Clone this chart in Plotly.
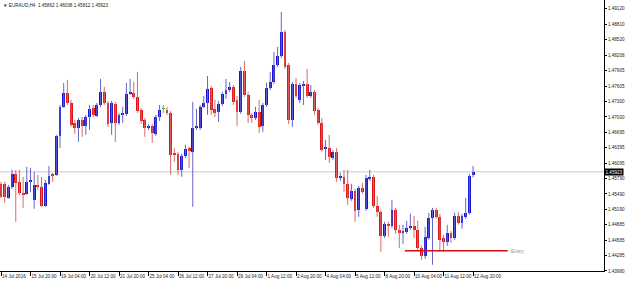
import plotly.graph_objects as go

symbol = "EURAUD,H4"

tick_bars = [0, 8, 16, 24, 32, 40, 48, 56, 64, 72, 80, 88, 96, 104, 112, 120, 128]
tick_labels = ["14 Jul 2016", "15 Jul 20:00", "19 Jul 04:00", "20 Jul 12:00", "21 Jul 20:00",
               "25 Jul 04:00", "26 Jul 12:00", "27 Jul 20:00", "29 Jul 04:00", "1 Aug 12:00",
               "2 Aug 20:00", "4 Aug 04:00", "5 Aug 12:00", "8 Aug 20:00", "10 Aug 04:00",
               "11 Aug 12:00", "12 Aug 20:00"]

price_ticks = [1.49120, 1.48810, 1.48520, 1.48208, 1.47905, 1.47605, 1.47300, 1.47000, 1.46695,
               1.46395, 1.46095, 1.45790, 1.45490, 1.45190, 1.44885, 1.44585, 1.44285, 1.43980]

opens = [1.45688, 1.45688, 1.45413, 1.45629, 1.45884, 1.45727, 1.45511, 1.45492, 1.45727, 1.45374,
         1.45668, 1.45629, 1.45256, 1.45688, 1.45864, 1.45864, 1.46628, 1.47197, 1.47471, 1.47275,
         1.46883, 1.46785, 1.46942, 1.46824, 1.47001, 1.47177, 1.47020, 1.47236, 1.47491, 1.47275,
         1.46883, 1.47256, 1.46883, 1.47040, 1.47060, 1.47452, 1.47471, 1.47393, 1.47138, 1.46942,
         1.46785, 1.46824, 1.46668, 1.47001, 1.47158, 1.47138, 1.47079, 1.46276, 1.46276, 1.45962,
         1.46236, 1.46393, 1.46315, 1.46785, 1.46785, 1.47197, 1.47275, 1.47569, 1.47158, 1.47099,
         1.47256, 1.47452, 1.47530, 1.47589, 1.47334, 1.47099, 1.47902, 1.47432, 1.47040, 1.46981,
         1.47099, 1.46824, 1.47236, 1.47569, 1.47687, 1.48020, 1.48196, 1.48667, 1.48020, 1.46942,
         1.47648, 1.47334, 1.47608, 1.47648, 1.47412, 1.47491, 1.47138, 1.46883, 1.46374, 1.46393,
         1.46197, 1.46315, 1.45805, 1.45825, 1.45688, 1.45394, 1.45550, 1.45178, 1.45609, 1.45198,
         1.45786, 1.45825, 1.45256, 1.45139, 1.44668, 1.44904, 1.44864, 1.45178, 1.44786, 1.44727,
         1.44747, 1.44825, 1.44864, 1.44786, 1.44433, 1.44276, 1.44629, 1.45021, 1.45178, 1.45041,
         1.44629, 1.44551, 1.44727, 1.44629, 1.45060, 1.44923, 1.45041, 1.45119, 1.45862]

highs = [1.45727, 1.45727, 1.45668, 1.45962, 1.45962, 1.45962, 1.45825, 1.46021, 1.46001, 1.45923,
         1.45864, 1.45825, 1.45766, 1.46040, 1.45903, 1.46648, 1.47236, 1.47667, 1.47726, 1.47334,
         1.46942, 1.46981, 1.47001, 1.47040, 1.47236, 1.47236, 1.47275, 1.47746, 1.47589, 1.47314,
         1.47314, 1.47295, 1.47079, 1.47197, 1.47667, 1.47746, 1.47687, 1.47883, 1.47177, 1.46981,
         1.46864, 1.46864, 1.47040, 1.47236, 1.47236, 1.47197, 1.47118, 1.46393, 1.46315, 1.46276,
         1.46452, 1.46413, 1.47295, 1.47158, 1.47236, 1.47412, 1.47804, 1.47608, 1.47334, 1.47314,
         1.47491, 1.47746, 1.47687, 1.47628, 1.47412, 1.47981, 1.48098, 1.47491, 1.47079, 1.47197,
         1.47334, 1.47275, 1.47667, 1.47883, 1.48275, 1.48373, 1.49059, 1.48706, 1.48059, 1.47687,
         1.47765, 1.47667, 1.47707, 1.47942, 1.47628, 1.47530, 1.47177, 1.46981, 1.46550, 1.46648,
         1.46354, 1.46393, 1.45903, 1.45962, 1.45962, 1.45688, 1.45590, 1.45648, 1.45707, 1.45864,
         1.45962, 1.45864, 1.45452, 1.45178, 1.44943, 1.44943, 1.45374, 1.45217, 1.44884, 1.44884,
         1.44962, 1.45100, 1.45060, 1.44962, 1.44472, 1.44845, 1.45119, 1.45217, 1.45217, 1.45100,
         1.44688, 1.44884, 1.44766, 1.45119, 1.45139, 1.45100, 1.45413, 1.45884, 1.46038]

lows = [1.45413, 1.45315, 1.45394, 1.45590, 1.44943, 1.45472, 1.45217, 1.45472, 1.45531, 1.45198,
        1.45570, 1.45237, 1.45237, 1.45668, 1.45727, 1.45844, 1.46393, 1.47177, 1.47236, 1.46805,
        1.46668, 1.46511, 1.46609, 1.46648, 1.46746, 1.47001, 1.47001, 1.47197, 1.47236, 1.46805,
        1.46648, 1.46511, 1.46844, 1.46883, 1.47020, 1.47432, 1.47354, 1.47079, 1.46864, 1.46609,
        1.46746, 1.46491, 1.46628, 1.46922, 1.47079, 1.47040, 1.45864, 1.46119, 1.45864, 1.45825,
        1.46197, 1.46001, 1.45237, 1.46746, 1.46746, 1.47177, 1.47040, 1.47040, 1.47001, 1.46903,
        1.47216, 1.47354, 1.47491, 1.47236, 1.46824, 1.47060, 1.47393, 1.46883, 1.46883, 1.46942,
        1.46687, 1.46707, 1.47197, 1.47530, 1.47648, 1.47981, 1.48157, 1.47942, 1.46864, 1.46805,
        1.47373, 1.47275, 1.47236, 1.47373, 1.47373, 1.47040, 1.46844, 1.46315, 1.46158, 1.46099,
        1.46158, 1.45727, 1.45746, 1.45531, 1.45276, 1.45355, 1.44943, 1.45041, 1.45492, 1.45158,
        1.45746, 1.45217, 1.45041, 1.44355, 1.44629, 1.44649, 1.44825, 1.44708, 1.44433, 1.44512,
        1.44708, 1.44786, 1.44629, 1.44374, 1.44198, 1.44218, 1.44590, 1.44100, 1.45001, 1.44355,
        1.44355, 1.44472, 1.44531, 1.44590, 1.44884, 1.44806, 1.45001, 1.45080, 1.45812]

closes = [1.45433, 1.45433, 1.45629, 1.45884, 1.45707, 1.45511, 1.45472, 1.45727, 1.45746, 1.45668,
          1.45629, 1.45256, 1.45707, 1.45844, 1.45844, 1.46628, 1.47197, 1.47471, 1.47275, 1.46844,
          1.46785, 1.46942, 1.46824, 1.47001, 1.47158, 1.47040, 1.47236, 1.47491, 1.47275, 1.46864,
          1.47275, 1.46883, 1.47040, 1.47079, 1.47452, 1.47471, 1.47393, 1.47118, 1.46922, 1.46785,
          1.46824, 1.46687, 1.47001, 1.47138, 1.47158, 1.47079, 1.46256, 1.46256, 1.45962, 1.46236,
          1.46374, 1.46334, 1.46785, 1.46805, 1.47197, 1.47275, 1.47550, 1.47138, 1.47079, 1.47256,
          1.47452, 1.47530, 1.47589, 1.47295, 1.47099, 1.47902, 1.47432, 1.47040, 1.46981, 1.47099,
          1.46805, 1.47236, 1.47569, 1.47687, 1.48020, 1.48196, 1.48667, 1.47981, 1.46942, 1.47648,
          1.47412, 1.47628, 1.47648, 1.47412, 1.47491, 1.47118, 1.46883, 1.46354, 1.46393, 1.46217,
          1.46315, 1.45805, 1.45825, 1.45688, 1.45413, 1.45550, 1.45158, 1.45609, 1.45531, 1.45805,
          1.45825, 1.45256, 1.45139, 1.44668, 1.44904, 1.44864, 1.45178, 1.44786, 1.44727, 1.44766,
          1.44825, 1.44864, 1.44786, 1.44433, 1.44276, 1.44649, 1.45021, 1.45178, 1.45041, 1.44590,
          1.44551, 1.44727, 1.44629, 1.45060, 1.44923, 1.45060, 1.45119, 1.45844, 1.45923]

entry_price = 1.44374
entry_from_bar = 109.5
entry_to_bar = 137.4
entry_label = "Entry"

BLUE, RED, GREEN = "#1616d2", "#dc1616", "#22bb22"
BLUE_W, RED_W, GREEN_W = "#6464cc", "#d86a6a", "#55bb55"

n = len(opens)
xs = list(range(n))
body_col, base, height = [], [], []
wick = {"b": ([], []), "r": ([], []), "g": ([], [])}
for i in xs:
    o, h, l, c = opens[i], highs[i], lows[i], closes[i]
    k = "b" if c > o else ("r" if c < o else "g")
    body_col.append({"b": BLUE, "r": RED, "g": GREEN}[k])
    base.append(min(o, c))
    height.append(max(abs(c - o), 0.00008))
    wick[k][0].extend([i, i, None])
    wick[k][1].extend([l, h, None])

fig = go.Figure()
for k, col in (("b", BLUE_W), ("r", RED_W), ("g", GREEN_W)):
    fig.add_trace(go.Scatter(x=wick[k][0], y=wick[k][1], mode="lines",
                             line=dict(color=col, width=1), hoverinfo="skip"))
fig.add_trace(go.Bar(x=xs, y=height, base=base, width=0.78,
                     marker=dict(color=body_col, line=dict(width=0)), hoverinfo="skip"))

last_close = closes[-1]
fig.add_shape(type="line", xref="paper", x0=0, x1=1, y0=last_close, y1=last_close,
              line=dict(color="#c8c8c8", width=1), layer="below")
fig.add_shape(type="line", x0=entry_from_bar, x1=entry_to_bar, y0=entry_price, y1=entry_price,
              line=dict(color="#cc1111", width=1.5))
fig.add_annotation(x=entry_to_bar, y=entry_price, text=entry_label, showarrow=False,
                   xanchor="left", yanchor="middle", xshift=1,
                   font=dict(family="Liberation Sans", size=5.5, color="#a08c8c"))
fig.add_annotation(xref="paper", x=1, y=last_close, text=f"{last_close:.5f}", showarrow=False,
                   xanchor="left", yanchor="middle", bgcolor="#000000", borderpad=0.5,
                   font=dict(family="Liberation Sans", size=4.6, color="#ffffff"))
header = f"\u25BC {symbol}  {opens[-1]:.5f} {highs[-1]:.5f} {lows[-1]:.5f} {closes[-1]:.5f}"
fig.add_annotation(xref="paper", yref="paper", x=0, y=1, text=header, showarrow=False,
                   xanchor="left", yanchor="top", xshift=1, yshift=-1,
                   font=dict(family="Liberation Sans", size=4.6, color="#222222"))

fig.update_layout(
    width=625, height=281, margin=dict(l=0, r=19, t=0, b=10),
    paper_bgcolor="white", plot_bgcolor="white", showlegend=False, bargap=0,
    xaxis=dict(range=[-0.27, 163.5], tickvals=tick_bars, ticktext=tick_labels, tickangle=0,
               ticks="outside", ticklen=4, tickcolor="#000", showline=True, linecolor="#000",
               linewidth=1, showgrid=False, zeroline=False, ticklabelposition="outside right",
               tickfont=dict(family="Liberation Sans", size=4.6, color="#222")),
    yaxis=dict(side="right", range=[1.43978, 1.49294], tickvals=price_ticks,
               ticktext=[f"{p:.5f}" for p in price_ticks], ticks="outside", ticklen=2,
               tickcolor="#000", showline=True, linecolor="#000", linewidth=1,
               showgrid=False, zeroline=False,
               tickfont=dict(family="Liberation Sans", size=4.6, color="#222")),
)
fig.write_html("out.html")
